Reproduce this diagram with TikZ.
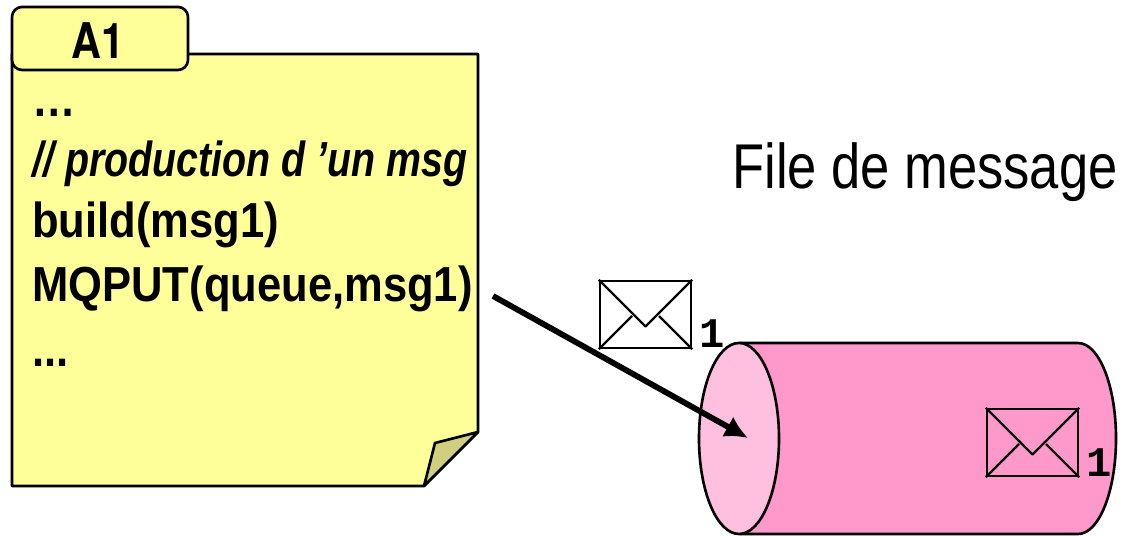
\documentclass[tikz,border=0pt]{standalone}
\usepackage{fontspec}
\setmainfont{Liberation Sans}
\newfontfamily\codefont[FakeStretch=.885]{Liberation Sans}
\newfontfamily\notefont[FakeStretch=.8]{Liberation Sans}
\newfontfamily\titlefont[FakeStretch=.83]{Liberation Sans}
\newfontfamily\tabfont[FakeStretch=.84]{TeX Gyre Heros}
\newfontfamily\digitfont{Liberation Mono}
\usetikzlibrary{shapes.geometric, arrows.meta}

\definecolor{sheet color}{RGB}{255,255,153}
\definecolor{fold color}{RGB}{207,207,125}
\definecolor{queue color}{RGB}{255,153,204}
\definecolor{mouth color}{RGB}{255,192,224}

\tikzset{
	code line/.style={anchor=base west, inner sep=0, font=\fontsize{28}{32}\selectfont\codefont\bfseries},
	envelope/.style={draw, line width=1.3pt, minimum width=1.82cm, minimum height=1.34cm, inner sep=0},
	msg number/.style={anchor=base west, inner sep=0, font=\fontsize{24}{26}\selectfont\digitfont\bfseries},
}

\begin{document}
\begin{tikzpicture}[line width=1.5pt, line join=round]
	\useasboundingbox (0,0) rectangle (22.44,10.72);

	\draw [fill=sheet color] (.24,1) -- (.24,9.64) -- (9.56,9.64) -- (9.56,2.08) -- (8.48,1) -- cycle;
	\draw [fill=fold color] (9.56,2.08) -- (8.7,1.86) -- (8.48,1) -- cycle;
	\draw [fill=sheet color, rounded corners=.2cm] (.24,9.32) rectangle (3.76,10.58);
	\node (tab title) at (1.96,9.91) [font=\fontsize{28}{32}\selectfont\tabfont\bfseries, inner sep=0] {A1};

	\node (dots top) at (.62,8.39) [code line] {…};
	\node (comment line) at (.62,7.18) [code line, font=\fontsize{28}{32}\selectfont\notefont\bfseries\itshape] {// production d ’un msg};
	\node (build line) at (.62,5.96) [code line] {build(msg1)};
	\node (put line) at (.62,4.68) [code line] {MQPUT(queue,msg1)};
	\node (dots end) at (.62,3.38) [code line] {...};

	\node (queue title) at (14.62,6.95) [anchor=base west, inner sep=0, font=\fontsize{36}{40}\selectfont\titlefont] {File de message};

	\draw [fill=queue color] (14.8,3.86) -- (21.56,3.86)
		arc [start angle=90, end angle=-90, x radius=.76, y radius=1.91]
		-- (14.8,.04) -- cycle;
	\node (queue front) at (14.78,1.95) [draw, ellipse, fill=mouth color, minimum width=1.6cm, minimum height=3.82cm, inner sep=0] {};

	\foreach \name/\x/\y in {out/12.91/4.43, in/20.65/1.87} {
		\node (envelope \name) at (\x,\y) [envelope] {};
		\draw [line width=1.3pt] (envelope \name.north west) -- (\x,\y-.24) -- (envelope \name.north east);
		\draw [line width=1.3pt] (envelope \name.south west) -- (\x-.27,\y-.03);
		\draw [line width=1.3pt] (envelope \name.south east) -- (\x+.27,\y-.03);
	}
	\node (number out) at (13.96,3.76) [msg number] {1};
	\node (number in) at (21.7,1.18) [msg number] {1};

	\coordinate (put out) at (9.86,4.8);
	\coordinate (queue in) at (14.96,1.96);
	\draw [line width=3.3pt, -{Latex[length=.46cm, width=.46cm]}] (put out) -- (queue in);
\end{tikzpicture}
\end{document}
